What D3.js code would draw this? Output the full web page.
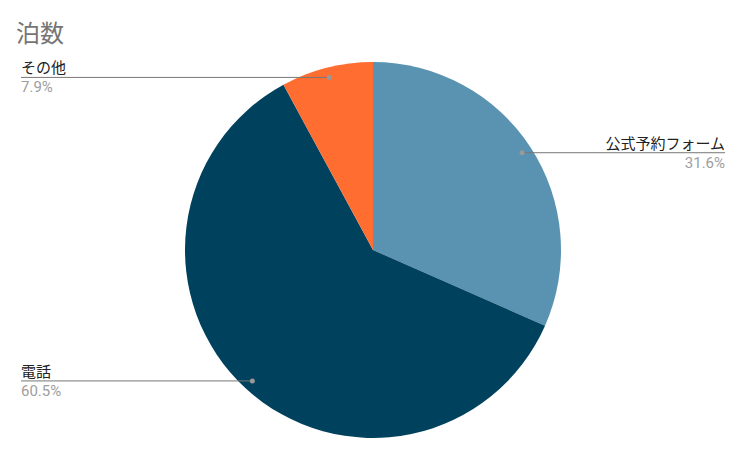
<!DOCTYPE html>
<html lang="ja">
<head>
<meta charset="utf-8">
<title>泊数</title>
<script src="https://d3js.org/d3.v7.min.js"></script>
<style>
  body { margin: 0; background: #fff; }
  text { font-family: Roboto, "Noto Sans CJK JP", sans-serif; }
</style>
</head>
<body>
<div id="chart"></div>
<script>
// data
var labels = ["公式予約フォーム", "電話", "その他"];
var values = [31.6, 60.5, 7.9];
var colors = ["#5a93b1", "#00425e", "#ff6d31"];

var width = 744, height = 456;
var cx = 373, cy = 250, radius = 188;

var svg = d3.select("#chart").append("svg")
  .attr("width", width)
  .attr("height", height);

// title
svg.append("text")
  .attr("x", 16)
  .attr("y", 42)
  .style("font-size", "24px")
  .style("fill", "#757575")
  .text("泊数");

var pie = d3.pie().sort(null).value(function(d) { return d; });
var arcs = pie(values);
var arc = d3.arc().innerRadius(0).outerRadius(radius);

var g = svg.append("g").attr("transform", "translate(" + cx + "," + cy + ")");

g.selectAll("path")
  .data(arcs)
  .enter()
  .append("path")
    .attr("d", arc)
    .style("fill", function(d, i) { return colors[i]; });

// leader lines and labels
var dotR = radius * 0.947;
arcs.forEach(function(d, i) {
  var a = (d.startAngle + d.endAngle) / 2;
  var px = cx + dotR * Math.sin(a);
  var py = cy - dotR * Math.cos(a);
  var right = px > cx;
  var ex = right ? 725 : 21;

  svg.append("line")
    .attr("x1", px).attr("y1", py)
    .attr("x2", ex).attr("y2", py)
    .style("stroke", "#777")
    .style("stroke-width", 1);

  svg.append("circle")
    .attr("cx", px).attr("cy", py)
    .attr("r", 2.5)
    .style("fill", "#999");

  svg.append("text")
    .attr("x", ex)
    .attr("y", py - 4)
    .attr("text-anchor", right ? "end" : "start")
    .style("font-size", "15px")
    .style("fill", "#222")
    .text(labels[i]);

  svg.append("text")
    .attr("x", ex)
    .attr("y", py + 15)
    .attr("text-anchor", right ? "end" : "start")
    .style("font-size", "15px")
    .style("fill", "#9e9e9e")
    .text(d3.format(".1f")(values[i]) + "%");
});
</script>
</body>
</html>
